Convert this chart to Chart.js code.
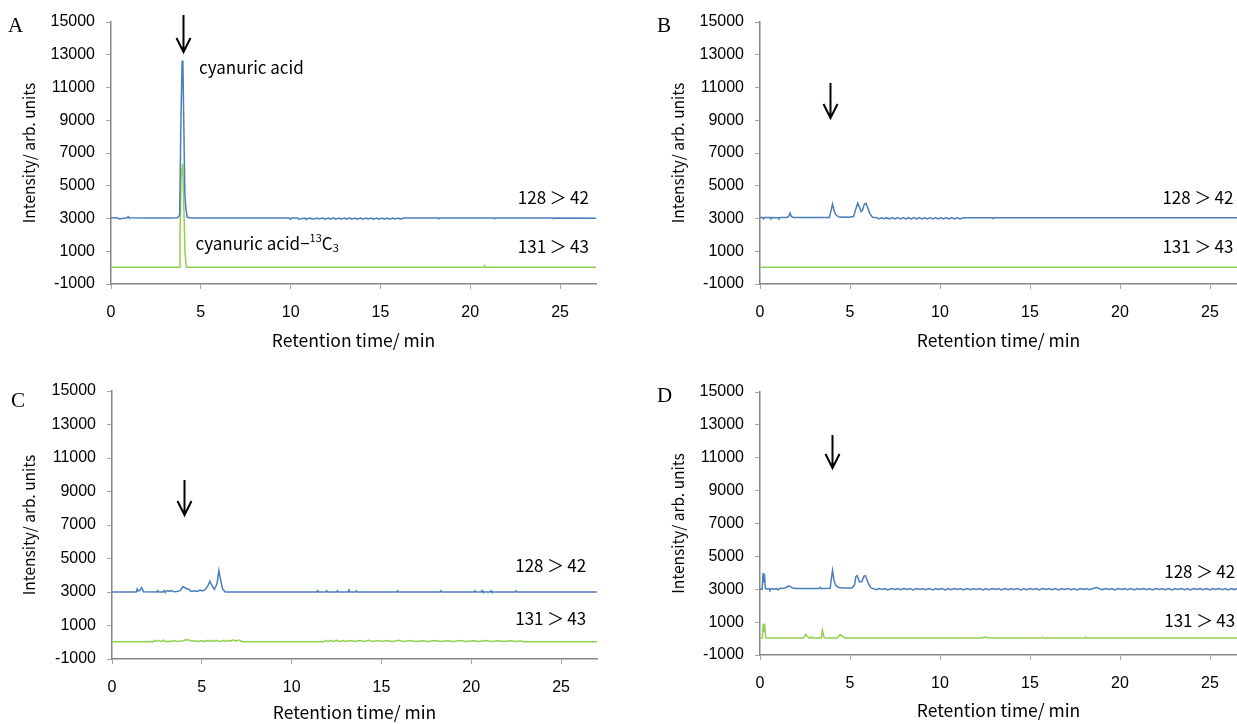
<!DOCTYPE html>
<html>
<head>
<meta charset="utf-8">
<script src="https://cdn.jsdelivr.net/npm/chart.js@4.4.1/dist/chart.umd.min.js"></script>
<style>
  html, body { margin: 0; padding: 0; background: #fff; }
  body { width: 1237px; height: 724px; position: relative; overflow: hidden; }
  .panel { position: absolute; }
  .letter { position: absolute; font: 21px 'Liberation Serif', serif; line-height: 1; color: #000; }
</style>
</head>
<body>
<div class="panel" style="left:0;top:0;width:620px;height:362px"><canvas id="chart-a"></canvas></div>
<div class="panel" style="left:649px;top:0;width:588px;height:362px"><canvas id="chart-b"></canvas></div>
<div class="panel" style="left:0;top:370px;width:620px;height:354px"><canvas id="chart-c"></canvas></div>
<div class="panel" style="left:649px;top:370px;width:588px;height:354px"><canvas id="chart-d"></canvas></div>
<div class="letter" style="left:8px;top:15px">A</div>
<div class="letter" style="left:657px;top:15px">B</div>
<div class="letter" style="left:11px;top:390px">C</div>
<div class="letter" style="left:657px;top:385px">D</div>
<script>
// tick labels
var xTicks = [0, 5, 10, 15, 20, 25];
var yTicks = [-1000, 1000, 3000, 5000, 7000, 9000, 11000, 13000, 15000];

// [retention time (min), intensity]
var a128 = [[0,3040],[0.4,3030],[0.45,2970],[0.9,3040],[0.95,3120],[1.0,3040],[2.2,3030],[3.2,3030],[3.7,3040],[3.82,3200],[3.9,9500],[3.96,12600],[4.0,12650],[4.05,9000],[4.11,4500],[4.17,3600],[4.24,3080],[4.4,3030],[7.5,3030],[9.9,3030],[10.0,2960],[10.05,3030],[10.4,3030],[10.45,2960],[10.8,3030],[10.85,2970],[11.1,3030],[11.2,2960],[11.5,3030],[11.55,2970],[11.8,3030],[11.9,2960],[12.1,3030],[12.2,2960],[12.4,3040],[12.5,2960],[12.7,3030],[12.8,2960],[13.0,3030],[13.1,2960],[13.3,3040],[13.4,2960],[13.6,3030],[13.7,2960],[13.9,3030],[14.0,2960],[14.2,3030],[14.3,2970],[14.5,3030],[14.6,2960],[14.8,3030],[14.9,2960],[15.1,3030],[15.2,2960],[15.4,3030],[15.5,2960],[15.7,3030],[15.8,2970],[16.0,3030],[16.1,2960],[16.3,3030],[16.45,3030],[18.2,3030],[18.25,2980],[18.3,3030],[21.3,3030],[21.35,2980],[21.4,3030],[24.6,3030],[24.65,2980],[24.7,3030],[27,3020]];
var a131 = [[0,30],[3.8,30],[3.84,1900],[3.9,5500],[3.99,6350],[4.06,3500],[4.12,900],[4.2,30],[20.75,30],[20.8,120],[20.85,30],[27,30]];

var b128 = [[0,3060],[0.15,3060],[0.2,2980],[0.25,3060],[0.55,3060],[0.6,2970],[0.65,3060],[1.0,3050],[1.05,3000],[1.1,3060],[1.5,3060],[1.6,3150],[1.67,3330],[1.74,3120],[1.85,3060],[3.85,3060],[3.95,3500],[4.03,3880],[4.1,3550],[4.2,3250],[4.35,3110],[4.6,3070],[4.8,3090],[4.9,3060],[5.05,3100],[5.2,3120],[5.3,3500],[5.43,3940],[5.52,3700],[5.62,3420],[5.7,3520],[5.8,3880],[5.89,3930],[5.97,3700],[6.1,3300],[6.25,3080],[6.5,3050],[6.6,2980],[6.75,3050],[6.9,2990],[7.0,3050],[7.2,2980],[7.35,3050],[7.5,2970],[7.65,3050],[7.8,2980],[7.95,3050],[8.1,2970],[8.25,3050],[8.4,2980],[8.55,3050],[8.7,2970],[8.85,3050],[9.0,2980],[9.15,3050],[9.3,2970],[9.45,3050],[9.6,2980],[9.75,3050],[9.9,2970],[10.05,3050],[10.2,2980],[10.35,3050],[10.5,2970],[10.65,3050],[10.8,2980],[10.95,3050],[11.1,2970],[11.3,3050],[12.9,3050],[12.95,2990],[13.0,3050],[26.5,3050]];
var b131 = [[0,30],[26.5,30]];

var c128 = [[0,3000],[1.35,3000],[1.4,3180],[1.45,3060],[1.55,3100],[1.65,3260],[1.75,3020],[2.5,3000],[2.55,3080],[2.6,3000],[2.85,3000],[2.9,3080],[2.95,3000],[3.1,3080],[3.2,3030],[3.3,3090],[3.45,3010],[3.6,3030],[3.8,3080],[3.95,3330],[4.1,3220],[4.3,3150],[4.4,3030],[4.6,3080],[4.75,3030],[4.9,3120],[5.05,3070],[5.2,3150],[5.35,3400],[5.45,3640],[5.55,3420],[5.7,3150],[5.85,3500],[5.95,4280],[6.05,3700],[6.15,3200],[6.3,3000],[11.4,3000],[11.45,3080],[11.5,3000],[11.9,3000],[11.95,3070],[12.0,3000],[12.5,3000],[12.55,3070],[12.6,3000],[13.15,3000],[13.2,3120],[13.25,3000],[13.55,3000],[13.6,3070],[13.65,3000],[15.85,3000],[15.9,3070],[15.95,3000],[18.25,3000],[18.3,3070],[18.35,3000],[20.15,3000],[20.2,3070],[20.25,3000],[20.55,3000],[20.6,3080],[20.65,3000],[21.05,3000],[21.1,3070],[21.15,3000],[22.45,3000],[22.5,3070],[22.55,3000],[27,3000]];
var c131 = [[0,30],[2.3,30],[2.35,110],[2.45,50],[2.6,120],[2.7,40],[2.85,130],[2.95,40],[3.1,60],[3.3,40],[3.5,100],[3.6,40],[3.9,70],[4.1,150],[4.3,140],[4.45,60],[4.6,90],[4.8,40],[5.0,100],[5.1,40],[5.35,110],[5.45,50],[5.6,120],[5.7,50],[5.85,110],[6.0,40],[6.2,100],[6.3,50],[6.5,120],[6.6,60],[6.75,140],[6.9,70],[7.05,130],[7.2,60],[7.3,30],[11.8,30],[11.9,110],[12.0,40],[12.2,120],[12.3,50],[12.5,110],[12.7,40],[12.9,100],[13.0,40],[13.3,110],[13.5,50],[13.8,100],[14.0,40],[14.3,120],[14.5,50],[14.8,110],[15.0,40],[15.3,100],[15.6,50],[16.0,120],[16.2,40],[16.6,100],[16.9,40],[17.3,90],[17.6,40],[18.0,100],[18.3,40],[18.7,90],[19.0,40],[19.4,100],[19.7,40],[20.1,90],[20.4,40],[20.8,110],[21.1,40],[21.5,90],[21.8,40],[22.2,90],[22.5,40],[22.8,80],[22.9,30],[27,30]];

var d128 = [[0,3000],[0.12,3000],[0.17,3980],[0.21,3400],[0.25,3900],[0.3,3050],[0.4,3000],[0.5,3040],[0.55,2950],[0.65,3040],[0.8,3000],[0.9,3040],[1.0,2960],[1.1,3040],[1.4,3080],[1.55,3180],[1.63,3200],[1.8,3080],[2.0,3050],[3.3,3050],[3.35,3110],[3.4,3050],[3.9,3060],[3.97,3700],[4.03,4150],[4.1,3600],[4.2,3250],[4.35,3110],[4.6,3080],[5.1,3080],[5.25,3250],[5.33,3780],[5.4,3830],[5.52,3450],[5.65,3450],[5.78,3800],[5.86,3830],[6.0,3400],[6.15,3100],[6.3,3040],[6.45,2970],[6.6,3040],[6.8,2980],[6.95,3040],[7.1,2960],[7.3,3040],[7.5,2980],[7.65,3040],[7.8,2970],[8.0,3040],[8.2,2980],[8.35,3040],[8.5,2960],[8.7,3040],[8.9,2980],[9.05,3040],[9.2,2970],[9.4,3040],[9.6,2960],[9.75,3040],[9.9,2980],[10.1,3040],[10.3,2960],[10.45,3040],[10.6,2970],[10.8,3040],[11.0,2980],[11.15,3040],[11.3,2960],[11.5,3040],[11.7,2970],[11.85,3040],[12.0,2980],[12.2,3040],[12.4,2960],[12.55,3040],[12.7,2970],[12.9,3040],[13.1,2980],[13.25,3040],[13.4,2960],[13.6,3040],[13.8,2970],[13.95,3040],[14.1,2980],[14.3,3040],[14.5,2960],[14.65,3040],[14.8,2970],[15.0,3040],[15.2,2980],[15.35,3040],[15.5,2960],[15.7,3040],[15.9,2980],[16.05,3040],[16.2,2970],[16.4,3040],[16.6,2960],[16.75,3040],[16.9,2980],[17.1,3040],[17.3,2970],[17.45,3040],[17.6,2960],[17.8,3040],[18.0,2980],[18.15,3040],[18.3,2970],[18.5,3040],[18.7,3100],[18.85,3040],[19.0,2970],[19.2,3040],[19.4,2980],[19.55,3040],[19.7,2960],[19.9,3040],[20.1,2980],[20.25,3040],[20.4,2970],[20.6,3040],[20.8,2960],[20.95,3040],[21.1,2980],[21.3,3040],[21.5,2970],[21.65,3040],[21.8,2960],[22.0,3040],[22.2,2980],[22.35,3040],[22.5,2970],[22.7,3040],[22.9,2960],[23.05,3040],[23.2,2980],[23.4,3040],[23.6,2970],[23.75,3040],[23.9,2960],[24.1,3040],[24.3,2980],[24.45,3040],[24.6,2970],[24.8,3040],[25.0,2960],[25.15,3040],[25.3,2980],[25.5,3040],[25.7,2970],[25.85,3040],[26.0,2960],[26.2,3040],[26.35,2980],[26.5,3040]];
var d131 = [[0,30],[0.13,30],[0.18,900],[0.22,400],[0.27,700],[0.32,50],[0.5,30],[2.4,30],[2.55,260],[2.7,40],[2.8,30],[2.85,110],[2.9,30],[3.4,30],[3.47,500],[3.55,80],[3.65,30],[4.3,30],[4.45,250],[4.6,120],[4.7,30],[12.3,30],[12.5,100],[12.7,30],[15.6,30],[15.7,80],[15.8,30],[18.05,30],[18.1,90],[18.15,30],[26.5,30]];

(function () {
  'use strict';

  var BLUE = '#4a7ebb';
  var GREEN = '#92d050';
  var AXIS = '#868686';
  var CJK = "'Noto Sans CJK JP', 'Noto Sans', sans-serif";
  var TICK_FONT = { family: "'Liberation Sans', Arial, sans-serif", size: 16 };
  var NOTE_FONT = '17px ' + CJK;
  var SMALL_FONT = '11px ' + CJK;

  var notesPlugin = {
    id: 'notes',
    afterDraw: function (chart) {
      var o = chart.options.plugins.notes;
      if (!o) return;
      var ctx = chart.ctx;
      var sx = chart.scales.x;
      var sy = chart.scales.y;
      ctx.save();
      if (o.arrow) {
        var ax = Math.round(sx.getPixelForValue(o.arrow[0])) + 0.5;
        var y0 = sy.getPixelForValue(o.arrow[1]);
        var y1 = sy.getPixelForValue(o.arrow[2]);
        ctx.strokeStyle = '#000';
        ctx.lineWidth = 2;
        ctx.beginPath();
        ctx.moveTo(ax, y0);
        ctx.lineTo(ax, y1 - 1);
        ctx.moveTo(ax - 7, y1 - 14);
        ctx.lineTo(ax, y1);
        ctx.lineTo(ax + 7, y1 - 14);
        ctx.stroke();
      }
      ctx.fillStyle = '#000';
      ctx.textBaseline = 'middle';
      (o.labels || []).forEach(function (l) {
        var px = sx.getPixelForValue(l.x);
        var py = sy.getPixelForValue(l.y);
        ctx.font = NOTE_FONT;
        ctx.textAlign = l.align || 'left';
        if (!l.parts) {
          ctx.fillText(l.text, px, py);
          return;
        }
        ctx.textAlign = 'left';
        l.parts.forEach(function (p) {
          var dy = 0;
          if (p[1] === 'sup') { ctx.font = SMALL_FONT; dy = -5; }
          else if (p[1] === 'sub') { ctx.font = SMALL_FONT; dy = 5; }
          else ctx.font = NOTE_FONT;
          ctx.fillText(p[0], px, py + dy);
          px += ctx.measureText(p[0]).width;
        });
      });
      ctx.restore();
    },
  };

  function toPoints(rows) {
    return rows.map(function (r) {
      return { x: r[0], y: r[1] };
    });
  }

  function makeChart(id, lay, blue, green, notes) {
    return new Chart(document.getElementById(id), {
      type: 'line',
      data: {
        datasets: [
          { label: '128>42', data: toPoints(blue), borderColor: BLUE, borderWidth: 1.5, pointRadius: 0, tension: 0 },
          { label: '131>43', data: toPoints(green), borderColor: GREEN, borderWidth: 1.5, pointRadius: 0, tension: 0 },
        ],
      },
      options: {
        responsive: true,
        maintainAspectRatio: false,
        animation: false,
        layout: { padding: { top: lay.padTop, right: lay.padRight, left: 0, bottom: 0 } },
        plugins: { legend: { display: false }, tooltip: { enabled: false }, notes: notes },
        scales: {
          x: {
            type: 'linear',
            min: 0,
            max: lay.xMax,
            afterFit: function (s) { s.height = lay.xHeight; },
            afterBuildTicks: function (s) { s.ticks = xTicks.map(function (v) { return { value: v }; }); },
            ticks: { font: TICK_FONT, color: '#000', padding: 14, maxRotation: 0, callback: function (v) { return String(v); } },
            grid: { drawOnChartArea: false, tickLength: 5, color: '#a6a6a6' },
            border: { color: AXIS, width: 1.5 },
            title: { display: true, text: 'Retention time/ min', font: { family: CJK, size: 17.5 }, color: '#000', padding: { top: 0, bottom: lay.xTitlePad } },
          },
          y: {
            min: -1000,
            max: 15000,
            afterFit: function (s) { s.width = lay.yWidth; },
            afterBuildTicks: function (s) { s.ticks = yTicks.map(function (v) { return { value: v }; }); },
            ticks: { font: TICK_FONT, color: '#000', padding: 11, callback: function (v) { return String(v); } },
            grid: { drawOnChartArea: false, tickLength: 5, color: '#a6a6a6' },
            border: { color: AXIS, width: 1.5 },
            title: { display: true, text: 'Intensity/ arb. units', font: { family: CJK, size: 15.5 }, color: '#000', padding: { top: 20, bottom: 0 } },
          },
        },
      },
      plugins: [notesPlugin],
    });
  }

  var TR128 = '128\u2009\uff1e\u200942';
  var TR131 = '131\u2009\uff1e\u200943';

  makeChart('chart-a', { padTop: 22, padRight: 24, yWidth: 111, xHeight: 78, xMax: 27, xTitlePad: 11 }, a128, a131, {
    arrow: [4.0, 15430, 13170],
    labels: [
      { text: 'cyanuric acid', x: 4.9, y: 12190 },
      { parts: [['cyanuric acid\u2212', ''], ['13', 'sup'], ['C', ''], ['3', 'sub']], x: 4.7, y: 1500 },
      { text: TR128, x: 26.6, y: 4300, align: 'right' },
      { text: TR131, x: 26.6, y: 1260, align: 'right' },
    ],
  });

  makeChart('chart-b', { padTop: 22, padRight: 0, yWidth: 111, xHeight: 78, xMax: 26.5, xTitlePad: 11 }, b128, b131, {
    arrow: [3.89, 11275, 9137],
    labels: [
      { text: TR128, x: 26.3, y: 4300, align: 'right' },
      { text: TR131, x: 26.3, y: 1260, align: 'right' },
    ],
  });

  makeChart('chart-c', { padTop: 21, padRight: 23, yWidth: 112, xHeight: 65, xMax: 27, xTitlePad: 1 }, c128, c131, {
    arrow: [4.0, 9687, 7597],
    labels: [
      { text: TR128, x: 26.4, y: 4550, align: 'right' },
      { text: TR131, x: 26.4, y: 1390, align: 'right' },
    ],
  });

  makeChart('chart-d', { padTop: 22, padRight: 0, yWidth: 111, xHeight: 69, xMax: 26.5, xTitlePad: 3 }, d128, d131, {
    arrow: [4.0, 12386, 10379],
    labels: [
      { text: TR128, x: 26.4, y: 4070, align: 'right' },
      { text: TR131, x: 26.4, y: 1100, align: 'right' },
    ],
  });
})();
</script>
</body>
</html>
